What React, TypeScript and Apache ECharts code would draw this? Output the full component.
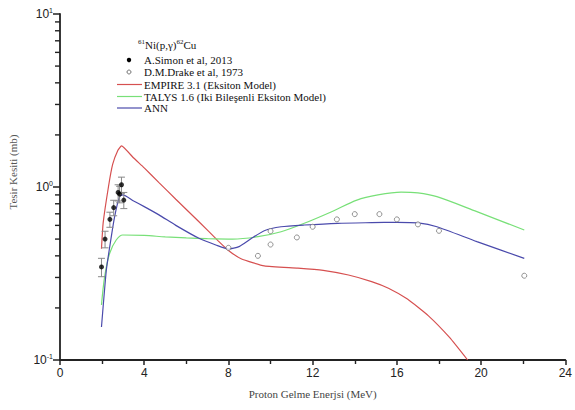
import React, { useEffect, useRef } from "react";
import * as echarts from "echarts";

const xTicks = [0, 4, 8, 12, 16, 20, 24];
const yMinorTicks = [0.2, 0.3, 0.4, 0.5, 0.6, 0.7, 0.8, 0.9, 2, 3, 4, 5, 6, 7, 8, 9];

const empireX = [1.97, 2.05, 2.3, 2.5, 2.75, 2.92, 3.5, 4.0, 4.7, 5.5, 6.6, 7.5, 8.0, 8.6, 9.7, 11.3, 12.5, 13.7, 14.8, 15.6, 16.5, 17.5, 18.5, 19.36];
const empireY = [0.44, 0.62, 1.0, 1.35, 1.63, 1.73, 1.47, 1.29, 1.06, 0.85, 0.63, 0.49, 0.43, 0.385, 0.35, 0.34, 0.33, 0.31, 0.284, 0.26, 0.225, 0.18, 0.135, 0.1];

const talysX = [1.97, 2.12, 2.36, 2.67, 2.98, 4, 5, 6, 7, 8.2, 9.4, 10.5, 11.6, 12.9, 14.1, 15.1, 16.2, 17.0, 17.9, 19.8, 22.05];
const talysY = [0.208, 0.303, 0.414, 0.494, 0.528, 0.525, 0.515, 0.508, 0.503, 0.5, 0.516, 0.551, 0.617, 0.72, 0.84, 0.9, 0.935, 0.925, 0.879, 0.72, 0.564];

const annX = [1.97, 2.2, 2.36, 2.59, 2.83, 2.98, 3.5, 4.0, 4.7, 5.5, 6.6, 7.4, 8.0, 8.5, 9.1, 9.7, 10.5, 11.6, 13.2, 14.8, 16.0, 17.0, 17.9, 19.8, 22.05];
const annY = [0.155, 0.33, 0.45, 0.67, 0.88, 0.9, 0.83, 0.77, 0.69, 0.6, 0.505, 0.462, 0.438, 0.452, 0.505, 0.559, 0.589, 0.603, 0.617, 0.622, 0.625, 0.62, 0.589, 0.483, 0.387];

const simonX = [1.97, 2.14, 2.37, 2.55, 2.76, 2.83, 2.92, 3.03];
const simonY = [0.345, 0.5, 0.65, 0.76, 0.93, 0.91, 1.03, 0.84];
const simonErr = [0.042, 0.055, 0.065, 0.078, 0.1, 0.1, 0.11, 0.09];

const drakeX = [8.0, 9.4, 10.0, 10.0, 11.25, 12.0, 13.15, 14.0, 15.17, 16.0, 17.0, 18.0, 22.05];
const drakeY = [0.445, 0.4, 0.465, 0.556, 0.511, 0.589, 0.65, 0.697, 0.697, 0.65, 0.608, 0.558, 0.307];

const legendNames = [
  "A.Simon et al, 2013",
  "D.M.Drake et al, 1973",
  "EMPIRE 3.1 (Eksiton Model)",
  "TALYS 1.6 (Iki Bileşenli Eksiton Model)",
  "ANN",
];
const colors = { empire: "#d65050", talys: "#78e078", ann: "#4a4aac" };

const zip = (xs: number[], ys: number[]) => xs.map((x, i) => [x, ys[i]]);

export default function App() {
  const ref = useRef<HTMLDivElement>(null);
  useEffect(() => {
    if (!ref.current) return;
    const chart = echarts.init(ref.current, null, { renderer: "svg" });
    const serif = "Liberation Serif";
    const sans = "Liberation Sans";
    const axisColor = "#222";
    const legX = 117;
    const textX = 144;
    const rows = [60, 72, 84.5, 96.5, 108];
    const nStyle = { fontFamily: serif, fontSize: 11, fill: "#111", lineHeight: 13 };
    const legendGraphics: any[] = [
      {
        type: "text",
        x: 138,
        y: 45,
        style: {
          text: "{s|61}{n|Ni(p,γ)}{s|62}{n|Cu}",
          verticalAlign: "middle",
          rich: {
            s: { fontFamily: serif, fontSize: 7, verticalAlign: "top", fill: "#111", lineHeight: 13 },
            n: nStyle,
          },
        },
      },
      { type: "circle", shape: { cx: 129, cy: rows[0], r: 2.2 }, style: { fill: "#000" } },
      { type: "circle", shape: { cx: 129, cy: rows[1], r: 2 }, style: { fill: "#fff", stroke: "#777", lineWidth: 1 } },
      { type: "line", shape: { x1: legX, y1: rows[2], x2: 142, y2: rows[2] }, style: { stroke: colors.empire, lineWidth: 1.2 } },
      { type: "line", shape: { x1: legX, y1: rows[3], x2: 142, y2: rows[3] }, style: { stroke: colors.talys, lineWidth: 1.2 } },
      { type: "line", shape: { x1: legX, y1: rows[4], x2: 142, y2: rows[4] }, style: { stroke: colors.ann, lineWidth: 1.2 } },
      ...legendNames.map((n, i) => ({
        type: "text",
        x: textX,
        y: rows[i],
        style: { text: `{n|${n}}`, verticalAlign: "middle", rich: { n: nStyle } },
      })),
      {
        type: "text",
        x: 13,
        y: 172,
        rotation: Math.PI / 2,
        style: {
          text: "{n|Tesir Kesiti (mb)}",
          align: "center",
          verticalAlign: "middle",
          rich: { n: { fontFamily: serif, fontSize: 11, fill: "#555", lineHeight: 13 } },
        },
      },
    ];

    chart.setOption({
      animation: false,
      backgroundColor: "#fff",
      grid: { left: 60, right: 6, top: 14, bottom: 50 },
      xAxis: {
        type: "value",
        min: 0,
        max: 24,
        interval: 4,
        name: "Proton Gelme Enerjsi (MeV)",
        nameLocation: "middle",
        nameGap: 28,
        nameTextStyle: { fontFamily: serif, fontSize: 11, color: "#444" },
        axisLine: { show: true, lineStyle: { color: axisColor, width: 1.8 } },
        axisTick: { show: true, length: 5, lineStyle: { color: axisColor, width: 1.5 } },
        minorTick: { show: true, splitNumber: 2, length: 4, lineStyle: { color: axisColor, width: 1.4 } },
        axisLabel: {
          fontFamily: sans,
          fontSize: 12,
          color: "#222",
          margin: 7,
          formatter: (v: number) => (xTicks.includes(v) ? String(v) : ""),
        },
        splitLine: { show: false },
      },
      yAxis: {
        type: "log",
        logBase: 10,
        min: 0.1,
        max: 10,
        axisLine: { show: true, lineStyle: { color: axisColor, width: 1.8 } },
        axisTick: { show: true, length: 7, lineStyle: { color: axisColor, width: 1.5 } },
        axisLabel: {
          fontFamily: sans,
          fontSize: 12,
          color: "#222",
          margin: 7,
          formatter: (v: number) => `{b|10}{s|${Math.round(Math.log10(v))}}`,
          rich: {
            b: { fontFamily: sans, fontSize: 12, color: "#222", lineHeight: 14 },
            s: { fontFamily: sans, fontSize: 7, color: "#222", verticalAlign: "top", lineHeight: 14 },
          },
        },
        splitLine: { show: false },
      },
      graphic: legendGraphics,
      series: [
        {
          type: "line",
          name: legendNames[2],
          data: zip(empireX, empireY),
          showSymbol: false,
          symbol: "none",
          smooth: 0.15,
          lineStyle: { color: colors.empire, width: 1.2 },
          z: 2,
        },
        {
          type: "line",
          name: legendNames[3],
          data: zip(talysX, talysY),
          showSymbol: false,
          symbol: "none",
          smooth: 0.3,
          lineStyle: { color: colors.talys, width: 1.2 },
          z: 2,
        },
        {
          type: "line",
          name: legendNames[4],
          data: zip(annX, annY),
          showSymbol: false,
          symbol: "none",
          smooth: 0.2,
          lineStyle: { color: colors.ann, width: 1.2 },
          z: 3,
        },
        {
          type: "custom",
          name: "errors",
          silent: true,
          data: simonX.map((x, i) => [x, simonY[i] - simonErr[i], simonY[i] + simonErr[i]]),
          encode: { x: 0, y: [1, 2] },
          renderItem: (params: any, api: any) => {
            const x = api.value(0);
            const lo = api.coord([x, api.value(1)]);
            const hi = api.coord([x, api.value(2)]);
            const w = 3.5;
            const style = { stroke: "#888", lineWidth: 1 };
            return {
              type: "group",
              children: [
                { type: "line", shape: { x1: lo[0], y1: lo[1], x2: hi[0], y2: hi[1] }, style },
                { type: "line", shape: { x1: lo[0] - w, y1: lo[1], x2: lo[0] + w, y2: lo[1] }, style },
                { type: "line", shape: { x1: hi[0] - w, y1: hi[1], x2: hi[0] + w, y2: hi[1] }, style },
              ],
            };
          },
          z: 4,
        },
        {
          type: "scatter",
          name: legendNames[0],
          data: zip(simonX, simonY),
          symbol: "circle",
          symbolSize: 5,
          itemStyle: { color: "#000" },
          z: 5,
        },
        {
          type: "scatter",
          name: legendNames[1],
          data: zip(drakeX, drakeY),
          symbol: "circle",
          symbolSize: 5,
          itemStyle: { color: "#fff", borderColor: "#777", borderWidth: 1 },
          z: 5,
        },
      ],
    });

    // minor ticks on the log axis, positioned through the chart's own scale
    const tickGraphics = yMinorTicks.map((v) => {
      const p = chart.convertToPixel({ xAxisIndex: 0, yAxisIndex: 0 }, [0, v]) as number[];
      return {
        type: "rect",
        silent: true,
        z: 100,
        shape: { x: p[0] - 5, y: p[1] - 0.7, width: 5, height: 1.4 },
        style: { fill: axisColor },
      };
    });
    chart.setOption({ graphic: [...legendGraphics, ...tickGraphics] });

    return () => chart.dispose();
  }, []);
  return <div ref={ref} style={{ width: 575, height: 410, position: "absolute", left: 0, top: 0 }} />;
}
